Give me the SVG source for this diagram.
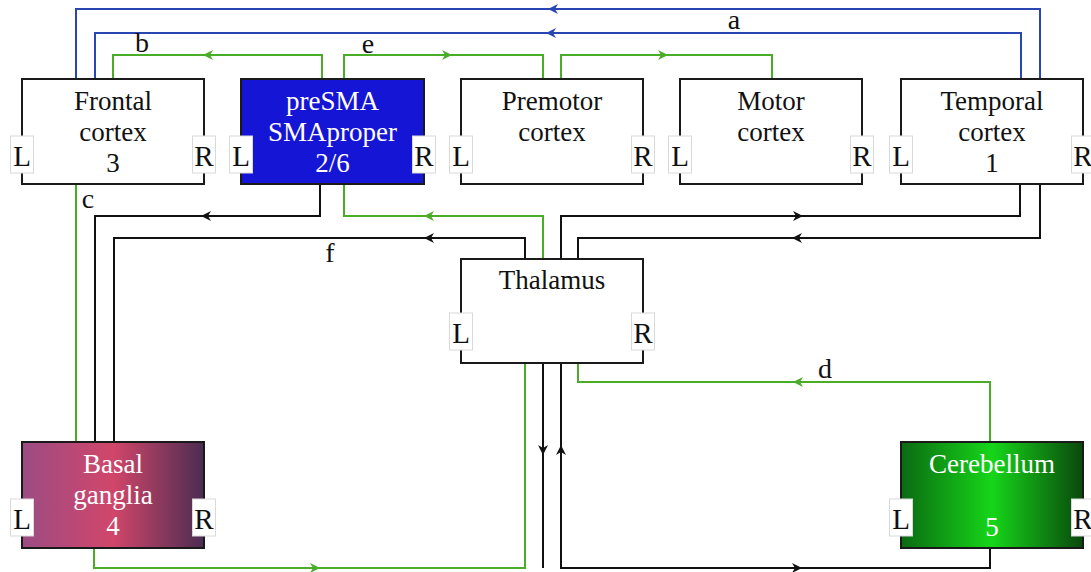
<svg xmlns="http://www.w3.org/2000/svg" width="1091" height="572" viewBox="0 0 1091 572">
<style>
.box{stroke:#1a1a1a;stroke-width:2;fill:#fff}
.t{font-family:"Liberation Serif",serif;font-size:27px;text-anchor:middle;fill:#111}
.tw{font-family:"Liberation Serif",serif;font-size:27px;text-anchor:middle;fill:#fff}
.lb{fill:#fff;stroke:#d9d9d9;stroke-width:1}
.lt{font-family:"Liberation Serif",serif;font-size:29px;text-anchor:middle;fill:#111}
.k{fill:none;stroke:#111;stroke-width:2}
.g{fill:none;stroke:#4aad28;stroke-width:2}
.b{fill:none;stroke:#2a46b2;stroke-width:2}
.ak{fill:#111}.ag{fill:#4aad28}.ab{fill:#2a46b2}
.lab{font-family:"Liberation Serif",serif;font-size:28px;text-anchor:middle;fill:#111}
</style>
<defs>
<path id="ah" d="M 5 0 L -5 -5 L -2 0 L -5 5 Z"/>
<linearGradient id="bg" x1="0" x2="1" y1="0" y2="0">
<stop offset="0" stop-color="#9c4c84"/>
<stop offset="0.5" stop-color="#d1466a"/>
<stop offset="1" stop-color="#4c2c52"/>
</linearGradient>
<linearGradient id="cg" x1="0" x2="1" y1="0" y2="0">
<stop offset="0" stop-color="#0b6a12"/>
<stop offset="0.5" stop-color="#16d619"/>
<stop offset="1" stop-color="#0a480c"/>
</linearGradient>
</defs>
<rect width="1091" height="572" fill="#fff"/>
<g id="connectors">
<path class="b" d="M 1040 79 V 9 H 76 V 79"/>
<path class="b" d="M 1021 79 V 33 H 95 V 79"/>
<use href="#ah" class="ab" transform="translate(553,9) rotate(180)"/>
<use href="#ah" class="ab" transform="translate(551,33) rotate(180)"/>
<path class="g" d="M 322 79 V 55 H 113 V 79"/>
<use href="#ah" class="ag" transform="translate(208,55) rotate(180)"/>
<path class="g" d="M 344 79 V 55 H 543 V 79"/>
<use href="#ah" class="ag" transform="translate(447,55)"/>
<path class="g" d="M 561 79 V 55 H 772 V 79"/>
<use href="#ah" class="ag" transform="translate(663,55)"/>
<path class="g" d="M 76 184 V 442"/>
<path class="k" d="M 320 184 V 216 H 95 V 442"/>
<use href="#ah" class="ak" transform="translate(206,216) rotate(180)"/>
<path class="g" d="M 543 259 V 216 H 344 V 184"/>
<use href="#ah" class="ag" transform="translate(429,216) rotate(180)"/>
<path class="k" d="M 525 259 V 238 H 114 V 442"/>
<use href="#ah" class="ak" transform="translate(429,238) rotate(180)"/>
<path class="k" d="M 561 259 V 216 H 1020 V 184"/>
<use href="#ah" class="ak" transform="translate(798,216)"/>
<path class="k" d="M 1040 184 V 238 H 578 V 259"/>
<use href="#ah" class="ak" transform="translate(797,238) rotate(180)"/>
<path class="g" d="M 990 442 V 382 H 578 V 363"/>
<use href="#ah" class="ag" transform="translate(798,382) rotate(180)"/>
<path class="g" d="M 94 548 V 568 H 525 V 363"/>
<use href="#ah" class="ag" transform="translate(315,568)"/>
<path class="k" d="M 543 363 V 568"/>
<use href="#ah" class="ak" transform="translate(543,450) rotate(90)"/>
<path class="k" d="M 990 548 V 568 H 561 V 363"/>
<use href="#ah" class="ak" transform="translate(561,450) rotate(-90)"/>
<use href="#ah" class="ak" transform="translate(797,568)"/>
<text class="lab" x="734" y="29">a</text>
<text class="lab" x="142" y="52">b</text>
<text class="lab" x="368" y="53">e</text>
<text class="lab" x="88" y="208">c</text>
<text class="lab" x="330" y="262">f</text>
<text class="lab" x="825" y="378">d</text>
</g>
<g id="frontal">
<rect class="box" x="22" y="79" width="182" height="105"/>
<text class="t" x="113" y="110">Frontal</text>
<text class="t" x="113" y="141">cortex</text>
<text class="t" x="113" y="172">3</text>
<rect class="lb" x="10.5" y="136" width="23" height="37"/><text class="lt" x="22" y="166">L</text>
<rect class="lb" x="192.5" y="136" width="23" height="37"/><text class="lt" x="204" y="166">R</text>
</g>
<g id="presma">
<rect class="box" x="241" y="79" width="183" height="105" style="fill:#1515d6"/>
<text class="tw" x="332.5" y="110">preSMA</text>
<text class="tw" x="332.5" y="141">SMAproper</text>
<text class="tw" x="332.5" y="172">2/6</text>
<rect class="lb" x="229.5" y="136" width="23" height="37"/><text class="lt" x="241" y="166">L</text>
<rect class="lb" x="412.5" y="136" width="23" height="37"/><text class="lt" x="424" y="166">R</text>
</g>
<g id="premotor">
<rect class="box" x="461" y="79" width="182" height="105"/>
<text class="t" x="552" y="110">Premotor</text>
<text class="t" x="552" y="141">cortex</text>
<rect class="lb" x="449.5" y="136" width="23" height="37"/><text class="lt" x="461" y="166">L</text>
<rect class="lb" x="631.5" y="136" width="23" height="37"/><text class="lt" x="643" y="166">R</text>
</g>
<g id="motor">
<rect class="box" x="680" y="79" width="182" height="105"/>
<text class="t" x="771" y="110">Motor</text>
<text class="t" x="771" y="141">cortex</text>
<rect class="lb" x="668.5" y="136" width="23" height="37"/><text class="lt" x="680" y="166">L</text>
<rect class="lb" x="850.5" y="136" width="23" height="37"/><text class="lt" x="862" y="166">R</text>
</g>
<g id="temporal">
<rect class="box" x="901" y="79" width="182" height="105"/>
<text class="t" x="992" y="110">Temporal</text>
<text class="t" x="992" y="141">cortex</text>
<text class="t" x="992" y="172">1</text>
<rect class="lb" x="889.5" y="136" width="23" height="37"/><text class="lt" x="901" y="166">L</text>
<rect class="lb" x="1071.5" y="136" width="23" height="37"/><text class="lt" x="1083" y="166">R</text>
</g>
<g id="thalamus">
<rect class="box" x="461" y="259" width="182" height="104"/>
<text class="t" x="552" y="289">Thalamus</text>
<rect class="lb" x="449.5" y="313" width="23" height="37"/><text class="lt" x="461" y="343">L</text>
<rect class="lb" x="631.5" y="313" width="23" height="37"/><text class="lt" x="643" y="343">R</text>
</g>
<g id="basal">
<rect class="box" x="22" y="442" width="182" height="106" style="fill:url(#bg)"/>
<text class="tw" x="113" y="473">Basal</text>
<text class="tw" x="113" y="504">ganglia</text>
<text class="tw" x="113" y="535">4</text>
<rect class="lb" x="10.5" y="499" width="23" height="37"/><text class="lt" x="22" y="529">L</text>
<rect class="lb" x="192.5" y="499" width="23" height="37"/><text class="lt" x="204" y="529">R</text>
</g>
<g id="cerebellum">
<rect class="box" x="901" y="442" width="182" height="106" style="fill:url(#cg)"/>
<text class="tw" x="992" y="473">Cerebellum</text>
<text class="tw" x="992" y="536">5</text>
<rect class="lb" x="889.5" y="499" width="23" height="37"/><text class="lt" x="901" y="529">L</text>
<rect class="lb" x="1071.5" y="499" width="23" height="37"/><text class="lt" x="1083" y="529">R</text>
</g>
</svg>
